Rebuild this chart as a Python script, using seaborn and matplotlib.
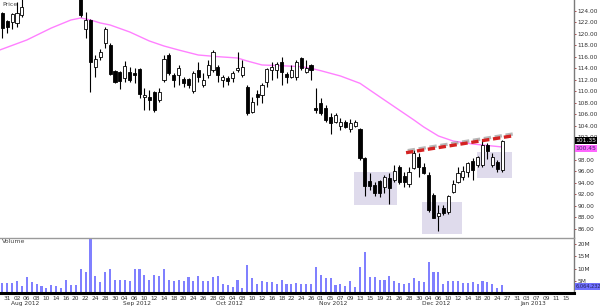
import matplotlib
matplotlib.use("Agg")
import matplotlib.pyplot as plt
import matplotlib.patheffects as pe
import matplotlib.transforms as mtrans
from matplotlib.patches import Rectangle
import numpy as np
import seaborn as sns

# ---------------- data (trading-day index 0 = 30 Jul 2012) ----------------
opens = [123.65, 122.26, 122.10, 121.90, 123.30,
         127.0, 128.2, 128.8, 129.5, 129.0, 128.4, 129.2, 130.0, 129.6, 128.8, 128.0,
         127.5, 120.86, 122.43, 114.20, 115.97, 118.42, 118.07, 113.53, 113.40, 112.31,
         113.35, 113.18, 113.88, 109.00, 108.99, 109.86, 108.47, 111.96, 116.32, 112.83,
         112.83, 112.13, 112.13, 110.04, 113.70, 111.09, 112.83, 113.70, 114.23, 111.96,
         112.31, 112.31, 113.70, 112.83, 110.74, 106.37, 109.51, 109.34, 111.61, 113.70,
         113.70, 115.10, 113.01, 112.48, 112.48, 115.80, 113.35, 114.58, 107.07, 107.94,
         107.07, 105.50, 104.63, 103.93, 104.63, 103.41, 103.93, 103.41, 98.35, 94.33,
         93.64, 94.33, 93.28, 94.86, 94.51, 96.78, 95.20, 93.81, 96.60, 98.52,
         96.78, 95.38, 91.89, 88.22, 89.62, 88.92, 92.41, 94.16, 95.03, 95.90,
         97.82, 97.12, 97.12, 100.61, 97.12, 97.65, 96.25]
highs = [123.80, 122.40, 123.70, 125.60, 126.50,
         128.8, 129.4, 130.1, 130.1, 129.6, 129.8, 130.6, 130.6, 130.2, 129.4, 128.6,
         128.0, 123.83, 122.60, 116.32, 117.40, 121.21, 118.42, 113.70, 113.60, 115.27,
         114.23, 114.05, 114.05, 110.56, 110.21, 110.00, 110.56, 116.32, 116.67, 113.18,
         114.58, 112.48, 112.31, 113.53, 115.10, 113.18, 115.45, 117.19, 114.58, 112.83,
         112.66, 113.53, 116.85, 115.45, 111.09, 108.99, 110.21, 111.43, 114.05, 115.10,
         115.10, 115.97, 113.35, 114.58, 115.45, 115.97, 115.45, 114.75, 110.56, 108.82,
         107.60, 106.20, 106.20, 105.33, 104.98, 105.15, 104.98, 103.50, 98.52, 95.73,
         94.16, 94.51, 95.38, 95.73, 97.12, 97.12, 95.90, 96.78, 99.74, 99.22,
         97.47, 95.90, 92.24, 90.14, 90.14, 91.89, 94.51, 96.78, 96.95, 97.65,
         98.35, 98.70, 101.66, 100.96, 99.22, 97.99, 101.49]
lows = [119.29, 120.16, 120.90, 121.20, 122.95,
        126.4, 127.6, 128.2, 128.4, 127.8, 127.8, 128.6, 129.0, 128.2, 127.4, 126.6,
        123.00, 119.29, 109.86, 112.48, 115.45, 117.54, 112.83, 111.50, 110.39, 111.61,
        111.61, 111.43, 108.82, 106.72, 106.72, 106.37, 108.12, 111.61, 112.83, 110.74,
        111.09, 110.74, 110.56, 109.69, 111.61, 110.74, 112.31, 113.35, 111.61, 110.74,
        111.09, 111.61, 113.35, 112.48, 105.85, 106.20, 107.60, 107.94, 110.74, 111.96,
        112.31, 111.09, 111.43, 112.31, 111.96, 113.70, 113.18, 111.96, 106.20, 105.85,
        104.63, 102.53, 104.45, 103.23, 103.50, 102.90, 103.76, 98.00, 91.71, 92.76,
        91.71, 91.54, 92.24, 90.32, 94.16, 93.81, 93.28, 93.28, 96.43, 95.03,
        95.55, 88.92, 87.87, 85.61, 88.40, 88.57, 92.24, 93.99, 94.51, 95.03,
        94.51, 96.78, 96.78, 98.17, 96.78, 95.90, 95.90]
closes = [121.03, 121.21, 123.50, 123.60, 124.70,
          128.2, 128.8, 129.5, 129.0, 128.4, 129.2, 130.0, 129.6, 128.8, 128.0, 127.2,
          123.30, 122.43, 115.10, 115.62, 116.85, 120.86, 113.01, 111.61, 111.70, 114.40,
          111.96, 112.83, 109.51, 109.34, 108.47, 106.72, 109.86, 115.62, 113.18, 111.96,
          114.05, 111.43, 111.09, 113.18, 112.48, 111.96, 114.58, 116.85, 112.83, 112.48,
          111.78, 113.18, 114.05, 114.23, 106.20, 108.12, 108.99, 111.09, 113.88, 114.23,
          114.75, 113.35, 112.48, 113.70, 115.10, 114.05, 114.05, 113.70, 106.72, 106.20,
          104.98, 104.45, 105.85, 104.63, 103.76, 104.45, 104.63, 98.35, 93.46, 93.46,
          92.24, 92.24, 95.03, 93.11, 96.08, 94.16, 94.16, 95.90, 99.22, 96.78,
          95.73, 89.27, 87.87, 88.74, 88.74, 91.71, 93.81, 95.73, 96.08, 97.47,
          96.25, 98.52, 100.61, 99.57, 98.52, 96.43, 101.35]
volume_m = [4.1, 4.1, 4.1, 4.8, 3.0, 6.4, 4.4, 3.7, 2.7, 2.0, 3.1, 2.7, 2.2, 5.5, 3.4, 3.4, 10.0, 8.6, 21.9, 6.8,
            4.4, 8.6, 10.0, 5.2, 5.2, 5.5, 5.1, 9.8, 10.0, 7.5, 5.2, 7.5, 6.8, 10.0, 5.2, 4.8, 5.2, 4.8, 6.4, 4.8,
            6.8, 4.8, 5.1, 6.4, 7.1, 3.8, 3.1, 2.5, 5.2, 2.0, 11.3, 6.1, 3.8, 5.1, 4.5, 4.6, 3.8, 5.5, 3.7, 3.7,
            4.1, 3.8, 3.8, 3.8, 10.5, 7.5, 6.1, 6.1, 3.3, 3.7, 3.0, 4.8, 2.3, 10.7, 16.7, 6.6, 6.6, 5.3, 5.5, 7.1,
            5.1, 4.1, 3.8, 4.1, 6.1, 4.8, 4.5, 12.8, 8.5, 8.5, 3.8, 5.1, 5.1, 5.1, 4.1, 4.1, 4.5, 3.7, 5.1, 4.5,
            3.7, 2.0, 3.1]

ma_idx = [-0.5, 5, 10, 14, 16, 18, 20, 22, 26, 30, 33, 36, 40, 44, 48, 50, 53, 57, 61, 63,
          65, 69, 73, 77, 81, 84, 86, 89, 92, 96, 99, 102]
ma_val = [117.2, 118.94, 121.03, 122.43, 122.78, 122.43, 121.91, 121.56, 120.34, 118.77,
          117.89, 117.19, 116.32, 116.03, 115.80, 115.27, 114.58, 114.45, 114.28, 114.0,
          113.58, 112.66, 111.38, 109.04, 106.72, 104.98, 103.76, 102.19, 101.31, 100.79,
          100.53, 100.27]

day_tick_idx = list(range(1, 116, 2))
day_tick_labels = ["31", "02", "06", "08", "10", "14", "16", "20", "22", "24", "28", "30",
                   "04", "06", "10", "12", "14", "18", "20", "24", "26", "28",
                   "02", "04", "08", "10", "12", "16", "18", "22", "24", "26",
                   "01", "05", "07", "09", "13", "15", "19", "21", "26", "28", "30",
                   "04", "06", "10", "12", "14", "18", "20", "24", "27", "31",
                   "03", "07", "09", "11", "15"]
month_idx = [2, 25, 44, 65, 86, 106]
month_labels = ["Aug 2012", "Sep 2012", "Oct 2012", "Nov 2012", "Dec 2012", "Jan 2013"]
price_ticks = list(range(86, 126, 2))
volume_ticks = [5, 10, 15, 20]
volume_tick_labels = ["5M", "10M", "15M", "20M"]

# consolidation boxes: (x0, x1, y0, y1)
box_x0 = [71.8, 85.6, 96.9]
box_x1 = [80.6, 93.8, 104.0]
box_y0 = [90.14, 85.08, 94.80]
box_y1 = [95.90, 90.72, 99.45]
trend_x = [82.4, 104.0]
trend_y = [99.27, 102.19]
last_close_text = "101.35"
ma_last_text = "100.45"
last_volume_text = "6,064,232"

# ---------------- figure ----------------
sns.set_theme(style="white")
plt.rcParams["font.family"] = ["DejaVu Sans"]

W, H = 600, 306
fig = plt.figure(figsize=(6.0, 3.06), dpi=100)
fig.patch.set_facecolor("white")
right_px = 574
ax_p = fig.add_axes([0, 1 - 237 / H, right_px / W, 237 / H])
ax_v = fig.add_axes([0, 1 - 293 / H, right_px / W, 55 / H], sharex=ax_p)

n = len(closes)
idx = np.arange(n)
o = np.array(opens); c = np.array(closes)
hi = np.array(highs); lo = np.array(lows)
up = c >= o

# boxes
for x0, x1, y0, y1 in zip(box_x0, box_x1, box_y0, box_y1):
    ax_p.add_patch(Rectangle((x0, y0), x1 - x0, y1 - y0, facecolor="#dfdbec",
                             edgecolor="none", zorder=0.5))

# moving average
sns.lineplot(x=ma_idx, y=ma_val, ax=ax_p, color="#ff80ff", lw=1.0, zorder=1)

# candles
ax_p.vlines(idx, lo, hi, color="black", lw=0.8, zorder=2)
body_lo = np.minimum(o, c)
body_h = np.maximum(np.abs(c - o), 0.12)
ax_p.bar(idx[up], body_h[up], bottom=body_lo[up], width=0.62, color="white",
         edgecolor="black", linewidth=0.6, zorder=3)
ax_p.bar(idx[~up], body_h[~up], bottom=body_lo[~up], width=0.62, color="black",
         edgecolor="black", linewidth=0.6, zorder=3)

# trend line
ax_p.plot(trend_x, trend_y, color="#d42222", lw=2.4, dashes=(2.2, 1.1), zorder=6,
          path_effects=[pe.SimpleLineShadow(offset=(1.2, 1.5), shadow_color="#999999", alpha=0.7),
                        pe.Normal()])

xl = (-2.3 / 4.9, (right_px - 2.3) / 4.9)
ax_p.set_xlim(*xl)
ax_p.set_ylim(125.92 - 0.17452 * 237, 125.92)
ax_p.yaxis.tick_right()
ax_p.set_yticks(price_ticks)
ax_p.set_yticklabels([f"{t:.2f}" for t in price_ticks])
ax_p.tick_params(axis="y", which="both", right=True, length=1.5, width=0.6, color="#a03030",
                 pad=1.0, labelsize=4.2, labelcolor="#333333")
ax_p.tick_params(axis="x", bottom=False, labelbottom=False)
for s in ["top", "left", "bottom"]:
    ax_p.spines[s].set_visible(False)
ax_p.spines["right"].set_color("#7a7a7a")
ax_p.spines["right"].set_linewidth(1.0)
ax_p.set_xlabel(""); ax_p.set_ylabel("")

# volume
ax_v.bar(idx, volume_m, width=0.42, color="#8080ff", edgecolor="none", zorder=2)
ax_v.set_ylim(0, 22.5)
ax_v.yaxis.tick_right()
ax_v.set_yticks(volume_ticks)
ax_v.set_yticklabels(volume_tick_labels)
ax_v.tick_params(axis="y", right=True, length=1.5, width=0.6, color="#a03030", pad=1.0,
                 labelsize=4.2, labelcolor="#333333")
ax_v.set_xticks(day_tick_idx)
ax_v.set_xticklabels(day_tick_labels)
ax_v.tick_params(axis="x", bottom=True, length=1.0, width=0.5, color="#555555", pad=1.0,
                 labelsize=4.2, labelcolor="#333333")
ax_v.spines["left"].set_visible(False)
ax_v.spines["top"].set_color("#9a9a9a")
ax_v.spines["top"].set_linewidth(1.0)
ax_v.spines["right"].set_color("#7a7a7a")
ax_v.spines["right"].set_linewidth(1.0)
ax_v.spines["bottom"].set_color("black")
ax_v.spines["bottom"].set_linewidth(2.2)
ax_v.set_xlim(*xl)

trans = mtrans.blended_transform_factory(ax_v.transData, fig.transFigure)
for mi, ml in zip(month_idx, month_labels):
    ax_v.text(mi - 0.3, 1 - 303.3 / H, ml, transform=trans, fontsize=4.2, color="#333333",
              ha="left", va="center", clip_on=False)

fig.text(2 / W, 1 - 4 / H, "Price", fontsize=4.5, color="#444444", ha="left", va="center")
fig.text(2 / W, 1 - 241.5 / H, "Volume", fontsize=4.5, color="#444444", ha="left", va="center")

# value flags on the right axis
def flag(y_px, text, bg, fg, size=4.3):
    fig.text((right_px + 1.5) / W, 1 - y_px / H, text, fontsize=size, color=fg,
             ha="left", va="center",
             bbox=dict(boxstyle="square,pad=0.15", facecolor=bg, edgecolor="none"))

y_close_px = (125.92 - closes[-1]) / 0.17452
y_ma_px = (125.92 - ma_val[-1]) / 0.17452
flag(y_close_px, last_close_text, "black", "white")
flag(y_ma_px + 1.5, ma_last_text, "#ff66ff", "#333366")
flag(286.5, last_volume_text, "#7070ff", "#222255", size=3.6)

fig.savefig("out.png", dpi=100, facecolor="white")
